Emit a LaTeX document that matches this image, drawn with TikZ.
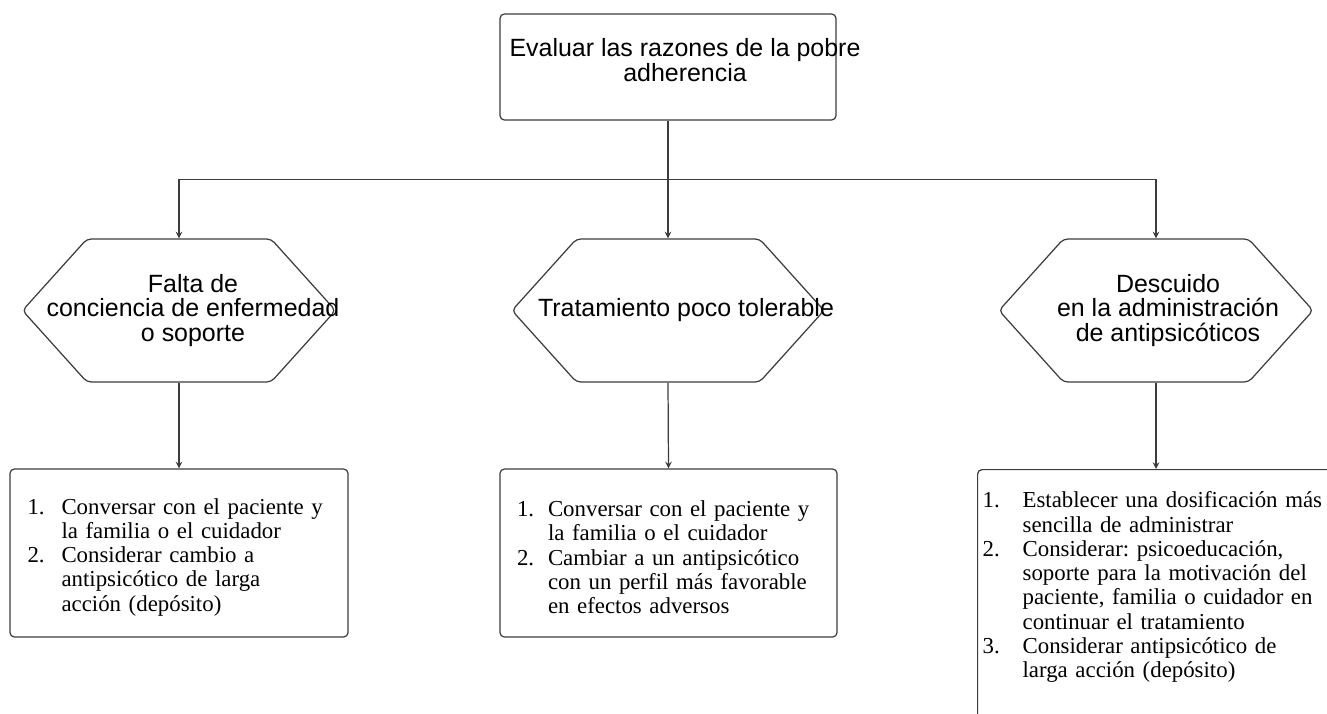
\documentclass[tikz,border=0pt]{standalone}
\usepackage{fontspec}
\setmainfont{Liberation Sans}
\newfontfamily\listfont{Liberation Serif}
\usepackage{enumitem}
\usetikzlibrary{positioning, calc, shapes.symbols}
\definecolor{xline}{HTML}{3C3C3C}
\tikzset{
	arrow/.style={->, >=stealth, draw=xline, line width=0.7pt},
	boxnode/.style={draw=xline, line width=0.7pt, rounded corners=2.5pt},
	hexnode/.style={draw=xline, line width=0.7pt, shape=signal, signal to=west and east,
		signal pointer angle=96, rounded corners=2.5pt, minimum height=2.86cm, inner sep=0pt},
	caption/.style={align=center, font=\fontsize{14.2}{14}\selectfont},
	listnode/.style={boxnode, align=left, font=\listfont\fontsize{13}{13.8}\selectfont\frenchspacing},
}
\setlist[enumerate]{label=\arabic*., align=left, labelindent=0pt, labelsep=0.14cm, nosep}

\begin{document}
\begin{tikzpicture}
	\useasboundingbox (0,0) rectangle (26.54,-14.26);

	\node[boxnode, minimum width=6.72cm, minimum height=2.12cm,
		label={[caption, xshift=0.34cm, yshift=0.14cm]center:{Evaluar las razones de la pobre\\adherencia}}] (eval) at (13.36,-1.34) {};

	\node[hexnode, minimum width=6.26cm,
		label={[caption, xshift=0.28cm]center:{Falta de\\conciencia de enfermedad\\o soporte}}] (conc) at (3.58,-6.21) {};
	\node[hexnode, minimum width=6.24cm,
		label={[caption, xshift=0.36cm]center:{Tratamiento poco tolerable}}] (tol) at (13.36,-6.21) {};
	\node[hexnode, minimum width=6.28cm,
		label={[caption, xshift=0.24cm]center:{Descuido\\en la administración\\de antipsicóticos}}] (desc) at (23.12,-6.21) {};

	\node[listnode, text width=6.06cm, inner xsep=0.35cm, minimum height=3.36cm] (acts1) at (3.58,-11.06) {%
		\begin{enumerate}[leftmargin=0.68cm, labelwidth=0.54cm]
			\item Conversar con el paciente y\\la familia o el cuidador
			\item Considerar cambio a\\antipsicótico de larga\\acción (depósito)
		\end{enumerate}};
	\node[listnode, text width=6.06cm, inner xsep=0.34cm, minimum height=3.36cm] (acts2) at (13.37,-11.06) {%
		\begin{enumerate}[leftmargin=0.62cm, labelwidth=0.48cm]
			\item Conversar con el paciente y\\la familia o el cuidador
			\item Cambiar a un antipsicótico\\con un perfil más favorable\\en efectos adversos
		\end{enumerate}};
	\node[listnode, text width=7.4cm, inner xsep=0.1cm, inner ysep=0.28cm, text depth=4.5cm,
		anchor=north west] (acts3) at (19.54,-9.38) {%
		\begin{enumerate}[leftmargin=0.8cm, labelwidth=0.66cm]
			\item Establecer una dosificación más\\sencilla de administrar
			\item Considerar: psicoeducación,\\soporte para la motivación del\\paciente, familia o cuidador en\\continuar el tratamiento
			\item Considerar antipsicótico de\\larga acción (depósito)
		\end{enumerate}};

	% tree from the first box
	\coordinate (bus) at ($(eval.south)!0.5!(tol.north)$);
	\draw[arrow] (eval.south) -- (tol.north);
	\draw[arrow] (bus) -| (conc.north);
	\draw[arrow] (bus) -| (desc.north);

	\draw[arrow] (conc.south) -- (acts1.north);
	\draw[arrow] (tol.south) -- (acts2.north);
	\draw[arrow] (desc.south) -- (desc.south |- acts3.north);
\end{tikzpicture}
\end{document}
